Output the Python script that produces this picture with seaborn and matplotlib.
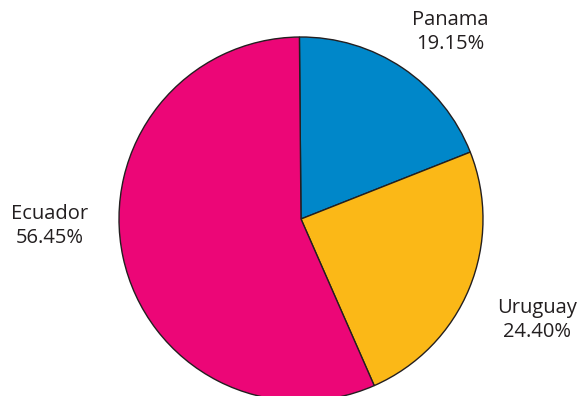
import matplotlib
matplotlib.use("Agg")
import matplotlib.pyplot as plt
import seaborn as sns

countries = ["Panama", "Uruguay", "Ecuador"]
shares = [19.15, 24.40, 56.45]
colors = ["#0087c9", "#fbb817", "#ec0677"]

# label positions in pixel space (styling)
label_pos = [(450, 32), (537, 320), (50, 226)]

sns.set_theme(style="white")
plt.rcParams['font.family'] = ['Open Sans', 'DejaVu Sans']

W, H = 581, 396
fig = plt.figure(figsize=(W / 100, H / 100), dpi=100)
ax = fig.add_axes([0, 0, 1, 1])

cx, cy, r = 301, H - 219, 182
ax.pie(shares, colors=colors, startangle=90.5, counterclock=False,
       center=(cx, cy), radius=r, frame=True,
       wedgeprops=dict(edgecolor="#231f20", linewidth=1.0))
ax.set_xlim(0, W)
ax.set_ylim(0, H)
ax.set_aspect("equal")
ax.axis("off")

for name, val, (x, y) in zip(countries, shares, label_pos):
    ax.text(x, H - y, f"{name}\n{val:.2f}%", ha="center", va="center",
            fontsize=14.5, color="#231f20", linespacing=1.25)

fig.savefig("out.png", dpi=100)
